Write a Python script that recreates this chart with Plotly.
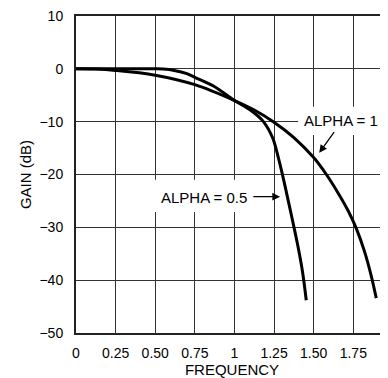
import plotly.graph_objects as go

# Data
freq_a05 = [0, 0.25, 0.5, 0.55, 0.62, 0.7, 0.75, 0.87, 1.0, 1.1, 1.18, 1.24, 1.28, 1.32, 1.36, 1.40, 1.43, 1.453]
gain_a05 = [0, 0, 0, -0.05, -0.3, -0.9, -1.6, -3.3, -6.0, -7.8, -9.9, -13.0, -17.2, -22.3, -27.8, -33.5, -38.5, -43.8]

freq_a1 = [0, 0.12, 0.25, 0.5, 0.75, 1.0, 1.125, 1.245, 1.375, 1.5, 1.58, 1.65, 1.72, 1.77, 1.82, 1.86, 1.895]
gain_a1 = [0, -0.05, -0.3, -1.2, -3.0, -6.0, -7.8, -10.0, -13.0, -16.8, -20.0, -23.3, -27.0, -30.3, -34.5, -38.8, -43.4]

x_ticks = [0, 0.25, 0.5, 0.75, 1, 1.25, 1.5, 1.75]
x_ticktext = ["0", "0.25", "0.50", "0.75", "1", "1.25", "1.50", "1.75"]
y_ticks = [10, 0, -10, -20, -30, -40, -50]
y_ticktext = ["10", "0", "\u221210", "\u221220", "\u221230", "\u221240", "\u221250"]

FONT = "Liberation Sans, Arial, Helvetica, sans-serif"

fig = go.Figure()
for fx, gy in [(freq_a05, gain_a05), (freq_a1, gain_a1)]:
    fig.add_trace(go.Scatter(x=fx, y=gy, mode="lines",
                             line=dict(color="black", width=3, shape="spline", smoothing=1.0),
                             showlegend=False, hoverinfo="skip"))

# white boxes behind the labels (cover grid lines)
fig.add_shape(type="rect", xref="x", yref="y", x0=1.402, x1=1.969, y0=-7.2, y1=-12.5,
              fillcolor="white", line_width=0, layer="between")
fig.add_shape(type="rect", xref="x", yref="y", x0=0.46, x1=1.115, y0=-21.0, y1=-27.1,
              fillcolor="white", line_width=0, layer="between")

fig.add_annotation(x=1.674, y=-9.85, xref="x", yref="y", text="ALPHA = 1", showarrow=False,
                   font=dict(family=FONT, size=15, color="black"))
fig.add_annotation(x=1.535, y=-15.9, ax=1.636, ay=-11.7, axref="x", ayref="y", xref="x", yref="y",
                   text="", showarrow=True, arrowhead=2, arrowsize=1.2, arrowwidth=1.3,
                   arrowcolor="black")
fig.add_annotation(x=0.805, y=-24.3, xref="x", yref="y", text="ALPHA = 0.5", showarrow=False,
                   font=dict(family=FONT, size=15, color="black"))
fig.add_annotation(x=1.288, y=-24.2, ax=1.11, ay=-24.2, axref="x", ayref="y", xref="x", yref="y",
                   text="", showarrow=True, arrowhead=2, arrowsize=1.2, arrowwidth=1.3,
                   arrowcolor="black")

# page body has an 8px margin, so the figure is shifted; compensate
fig.update_layout(
    width=380, height=370,
    margin=dict(l=68, r=0, t=8, b=45),
    paper_bgcolor="white", plot_bgcolor="white",
    font=dict(family=FONT, size=14, color="black"),
    xaxis=dict(range=[0, 1.969], tickvals=x_ticks, ticktext=x_ticktext,
               showgrid=True, gridcolor="#333", gridwidth=1,
               showline=True, linecolor="#222", linewidth=2, mirror=True,
               ticks="", ticklabelstandoff=6, zeroline=False, automargin=False,
               ticklabeloverflow="allow",
               tickfont=dict(size=14),
               title=dict(text="FREQUENCY", standoff=3, font=dict(size=15))),
    yaxis=dict(range=[-50, 10], tickvals=y_ticks, ticktext=y_ticktext,
               showgrid=True, gridcolor="#333", gridwidth=1,
               showline=True, linecolor="#222", linewidth=2,
               ticks="", ticklabelstandoff=8, zeroline=False, automargin=False,
               ticklabeloverflow="allow",
               tickfont=dict(size=14),
               title=dict(text="GAIN (dB)", standoff=4, font=dict(size=15))),
)

fig.write_html("out.html")
